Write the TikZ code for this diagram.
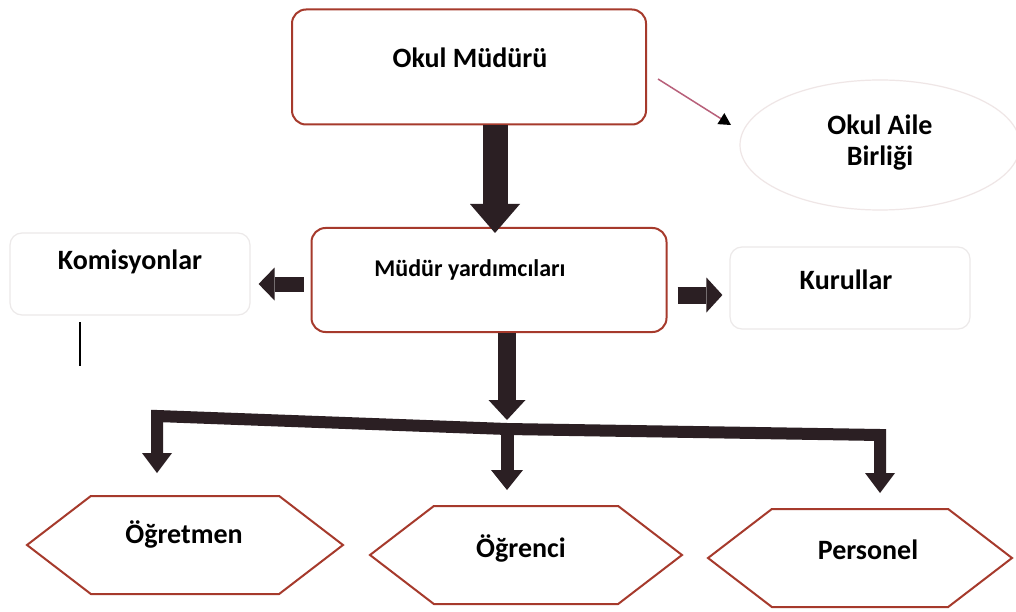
\documentclass[tikz,border=0pt]{standalone}
\usepackage{fontspec}
\setmainfont{Carlito}
\usetikzlibrary{arrows.meta,shapes.geometric,shapes.symbols,calc}
\definecolor{bord}{HTML}{A63A2C}
\definecolor{dark}{HTML}{2B1F23}
\definecolor{faint}{HTML}{ECE9E9}
\definecolor{faintpink}{HTML}{EFE6E6}
\definecolor{thinred}{HTML}{B8607A}
\begin{document}
\begin{tikzpicture}[x=1pt,y=-1pt,
  txt/.style={font=\fontsize{28}{31}\selectfont\bfseries, text=black, align=center, inner sep=0pt},
  mainbox/.style={draw=bord, line width=2pt, rounded corners=14pt, fill=white, inner sep=0pt},
  faintbox/.style={draw=faint, line width=1.2pt, rounded corners=12pt, inner sep=0pt},
  hexa/.style={draw=bord, line width=2pt, shape=signal, signal to=west and east, signal pointer angle=75, minimum width=316pt, minimum height=98pt, inner sep=0pt},
  fat/.style={draw=dark, line width=#1, line join=miter},
]
\useasboundingbox (0,0) rectangle (1016,612);
\fill[white] (0,0) rectangle (1016,612);

% boxes
\node[mainbox, minimum width=354pt, minimum height=115pt] (mudur) at (469,67) {};
\node[txt] (tmudur) at (470,58) {Okul Müdürü};

\node[draw=faintpink, line width=1.2pt, ellipse, minimum width=280pt, minimum height=130pt] (aile) at (880,145) {};
\node[txt] (taile) at (880,143) {Okul Aile\\Birliği};

\node[mainbox, minimum width=355pt, minimum height=104pt] (yard) at (489,280) {};
\node[txt, font=\fontsize{24}{28}\selectfont\bfseries] (tyard) at (470,270) {Müdür yardımcıları};

\node[faintbox, minimum width=240pt, minimum height=82pt] (kom) at (130,274) {};
\node[txt] (tkom) at (130,262) {Komisyonlar};

\node[faintbox, minimum width=240pt, minimum height=82pt] (kur) at (850,288) {};
\node[txt] (tkur) at (846,280) {Kurullar};

\node[hexa] (ogt) at (185,545) {};
\node[txt] (togt) at (184,534) {Öğretmen};
\node[hexa, minimum width=312pt] (ogr) at (526,555) {};
\node[txt] (togr) at (521,548) {Öğrenci};
\node[hexa, minimum width=304pt] (per) at (860,558) {};
\node[txt] (tper) at (868,550) {Personel};

% coordinates
\coordinate (xa) at (495,0);
\coordinate (xb) at (507,0);
\coordinate (c1) at (157,416);
\coordinate (c2) at (507,429);
\coordinate (c3) at (880,435);
\coordinate (e1) at (157,473);
\coordinate (e2) at (507,490);
\coordinate (e3) at (880,493);
\coordinate (s1) at (658,79);
\coordinate (s2) at (731,125);
\coordinate (v1) at (80,322);
\coordinate (v2) at (80,366);

% arrows
\draw[fat=25pt, -{Triangle[length=29pt,width=50pt,line width=0pt]}]
  (mudur.south -| xa) -- ([yshift=-6pt]yard.north -| xa);
\draw[fat=18pt, -{Triangle[length=20pt,width=37pt,line width=0pt]}]
  (yard.south -| xb) -- ($(c2)+(0,-9)$);
\draw[fat=15pt, -{Triangle[length=16pt,width=33pt,line width=0pt]}]
  ([xshift=-7pt]yard.west |- 0,284) -- ([xshift=8pt]kom.east |- 0,284);
\draw[fat=17pt, -{Triangle[length=16pt,width=35pt,line width=0pt]}]
  ([xshift=10pt]yard.east |- 0,295) -- ([xshift=-7pt]kur.west |- 0,295);

\draw[fat=12pt, {Triangle[length=20pt,width=30pt,line width=0pt]}-{Triangle[length=20pt,width=30pt,line width=0pt]}]
  (e1) -- (c1) -- (c2) -- (c3) -- (e3);
\draw[fat=13pt, -{Triangle[length=20pt,width=32pt,line width=0pt]}] (c2) -- (e2);

\draw[thinred, line width=1.5pt, -{Triangle[length=12pt,width=13pt,color=black,line width=0pt]}] (s1) -- (s2);

\draw[black, line width=2pt] (v1) -- (v2);
\end{tikzpicture}
\end{document}
